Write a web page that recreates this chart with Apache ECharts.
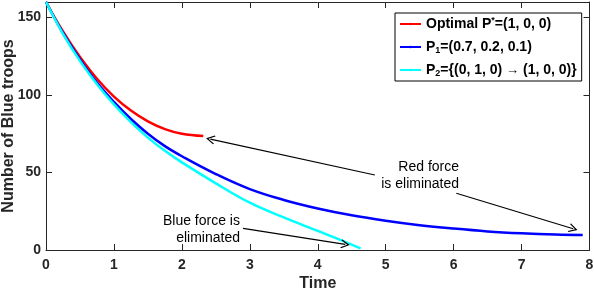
<!DOCTYPE html>
<html><head><meta charset="utf-8">
<script src="https://cdn.jsdelivr.net/npm/echarts@6/dist/echarts.min.js"></script>
<style>html,body{margin:0;padding:0;background:#fff}#c{width:594px;height:292px}</style>
</head><body><div id="c"></div>
<script>
// ---- data ----
const tRed  = [0, 0.25, 0.5, 0.75, 1, 1.25, 1.5, 1.75, 2, 2.315];
const vRed  = [160, 141, 124.5, 110.5, 99, 90, 83, 78, 75, 73.5];
const tBlue = [0, 0.25, 0.5, 0.75, 1, 1.25, 1.5, 1.75, 2, 2.5, 3, 3.5, 4, 4.5, 5, 5.5, 6, 6.5, 7, 7.5, 7.9];
const vBlue = [160, 140, 123, 108, 95.5, 84.5, 75, 67, 60.5, 49, 39.3, 32.3, 26.8, 22.4, 18.9, 16, 13.8, 12, 10.8, 10, 9.7];
const tCyan = [0, 0.25, 0.5, 0.75, 1, 1.25, 1.5, 1.75, 2, 2.5, 3, 3.5, 4, 4.25, 4.5, 4.63];
const vCyan = [160, 139.5, 122, 107, 94, 82.5, 72.5, 64, 56.5, 43, 30.5, 21, 12.3, 8, 3.5, 1];
const seriesNames = ['Optimal P*=(1, 0, 0)', 'P1=(0.7, 0.2, 0.1)', 'P2={(0, 1, 0) → (1, 0, 0)}'];
const legendRich = ['Optimal P{sup|*}=(1, 0, 0)', 'P{sub|1}=(0.7, 0.2, 0.1)', 'P{sub|2}={(0, 1, 0) {ar|→} (1, 0, 0)}'];
const xMin = 0, xMax = 8, xStep = 1;
const yMin = 0, yMax = 160, yStep = 50;
// annotations (data coordinates)
const arrows = [
  [[4.84, 48.4], [2.42, 71.5]],
  [[6.04, 36.6], [7.76, 13.7]],
  [[2.90, 14.0], [4.405, 3.6]]
];
const notes = [
  {text: 'Red force\nis eliminated', at: [6.08, 47.7]},
  {text: 'Blue force is\neliminated', at: [2.855, 13.2]}
];

const F = '"Liberation Sans", Arial, Helvetica, sans-serif';
const AX = '#262626';
const zip = (a, b) => a.map((x, i) => [x, b[i]]);
const ARROW = 'path://M5,0 L10,9 L9,10 L5,2.8 L1,10 L0,9 Z';

function axisCommon(show) {
  return {
    axisLine: {show: true, onZero: false, lineStyle: {color: AX, width: 1}},
    axisTick: {show: true, inside: true, length: 6, lineStyle: {color: AX, width: 1}},
    splitLine: {show: false},
    axisLabel: show ? {fontSize: 14, fontWeight: 'bold', color: AX, fontFamily: F} : {show: false}
  };
}

const chart = echarts.init(document.getElementById('c'), null, {renderer: 'canvas'});
chart.setOption({
  animation: false,
  backgroundColor: '#fff',
  grid: {left: 46, right: 4.5, top: 2, bottom: 42, containLabel: false, outerBoundsMode: 'none'},
  xAxis: [
    Object.assign({type: 'value', min: xMin, max: xMax, interval: xStep, position: 'bottom',
      name: 'Time', nameLocation: 'middle', nameGap: 26, nameMoveOverlap: false,
      nameTextStyle: {fontSize: 16, fontWeight: 'bold', color: AX, fontFamily: F}}, axisCommon(true),
      {axisLabel: {fontSize: 14, fontWeight: 'bold', color: AX, fontFamily: F, margin: 8}}),
    Object.assign({type: 'value', min: xMin, max: xMax, interval: xStep, position: 'top'}, axisCommon(false))
  ],
  yAxis: [
    Object.assign({type: 'value', min: yMin, max: yMax, interval: yStep, position: 'left',
      name: 'Number of Blue troops', nameLocation: 'middle', nameGap: 29, nameMoveOverlap: false,
      nameTextStyle: {fontSize: 16, fontWeight: 'bold', color: AX, fontFamily: F}}, axisCommon(true),
      {axisLabel: {fontSize: 14, fontWeight: 'bold', color: AX, fontFamily: F, margin: 5, showMaxLabel: false}}),
    Object.assign({type: 'value', min: yMin, max: yMax, interval: yStep, position: 'right'}, axisCommon(false))
  ],
  legend: {
    orient: 'vertical', left: 395, top: 13,
    padding: [3, 5, 3, 4], itemGap: 7, itemWidth: 21, itemHeight: 3,
    backgroundColor: '#fff', borderColor: '#000', borderWidth: 1, borderRadius: 0,
    data: seriesNames,
    formatter: name => legendRich[seriesNames.indexOf(name)],
    textStyle: {
      fontSize: 14, fontWeight: 'bold', color: '#000', fontFamily: F, lineHeight: 16,
      rich: {
        sup: {fontSize: 9, fontWeight: 'bold', color: '#000', fontFamily: F, verticalAlign: 'top', lineHeight: 16},
        sub: {fontSize: 9, fontWeight: 'bold', color: '#000', fontFamily: F, verticalAlign: 'bottom', lineHeight: 16},
        ar: {fontSize: 13, fontWeight: 'normal', color: '#000', fontFamily: F, lineHeight: 16}
      }
    }
  },
  series: [
    {name: seriesNames[0], type: 'line', data: zip(tRed, vRed), symbol: 'none', smooth: 0.4,
      lineStyle: {color: '#ff0000', width: 2.5}, itemStyle: {color: '#ff0000'}, z: 2},
    {name: seriesNames[1], type: 'line', data: zip(tBlue, vBlue), symbol: 'none', smooth: 0.4,
      lineStyle: {color: '#0000ff', width: 2.5}, itemStyle: {color: '#0000ff'}, z: 3},
    {name: seriesNames[2], type: 'line', data: zip(tCyan, vCyan), symbol: 'none', smooth: 0.4,
      lineStyle: {color: '#00ffff', width: 2.5}, itemStyle: {color: '#00ffff'}, z: 4,
      markLine: {
        silent: true, animation: false, symbol: ['none', ARROW], symbolSize: [9, 9],
        lineStyle: {color: '#000', width: 1.2, type: 'solid'}, label: {show: false},
        emphasis: {disabled: true},
        data: arrows.map(a => [{coord: a[0]}, {coord: a[1]}])
      },
      markPoint: {
        silent: true, animation: false, symbol: 'circle', symbolSize: 0,
        data: notes.map(n => ({coord: n.at, value: 0, label: {show: true, formatter: n.text, position: 'inside',
          align: 'right', verticalAlign: 'middle', color: '#000', fontSize: 14, fontFamily: F, lineHeight: 17}}))
      }
    }
  ]
});
</script></body></html>
